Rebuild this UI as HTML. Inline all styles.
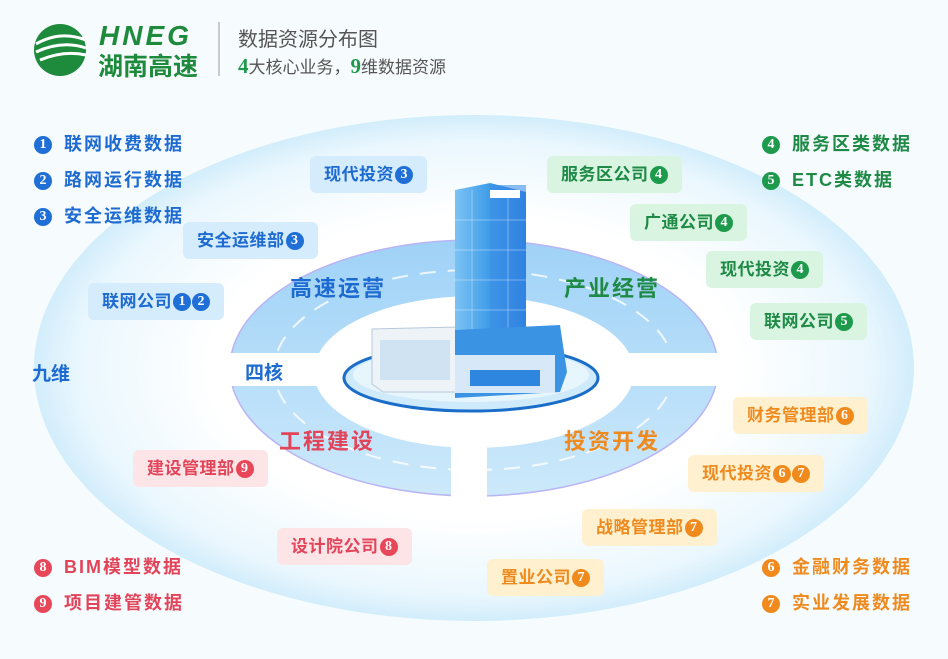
<!DOCTYPE html>
<html><head><meta charset="utf-8"><style>
body{margin:0;width:948px;height:659px;overflow:hidden;background:#f6fbfe;font-family:"Liberation Sans","Noto Sans CJK SC",sans-serif;position:relative}
.a{position:absolute;white-space:nowrap}
.n{display:inline-block;width:18px;height:18px;border-radius:50%;color:#fff;font-size:14px;line-height:18px;text-align:center;font-weight:bold;vertical-align:2px;font-family:"Liberation Serif",serif;letter-spacing:0}
.b .n{background:#1f6fd6}.g .n{background:#1e9a4c}.r .n{background:#e8475a}.o .n{background:#f08a1c}
.leg{font-size:18px;font-weight:bold;letter-spacing:2px}
.leg .n{margin-right:12px}
.b{color:#1d6ad0}.g{color:#1e8a46}.r{color:#e2445a}.o{color:#ee8a1e}
.t{font-size:17px;padding:0 14px;height:37px;line-height:37px;border-radius:6px;font-weight:bold;letter-spacing:0.5px}
.t.b{background:#d5ecfd}.t.g{background:#d9f5e2}.t.r{background:#fde4e7}.t.o{background:#fff1cf}
.t .n{margin-left:1px}
.big{font-size:22px;font-weight:bold;letter-spacing:2px}
</style></head><body>
<svg class="a" style="left:0;top:0" width="948" height="659">
<defs>
<radialGradient id="og" cx="50%" cy="50%" r="50%"><stop offset="0.6" stop-color="#ffffff"/><stop offset="0.9" stop-color="#eaf7fe"/><stop offset="1" stop-color="#d2edfb"/></radialGradient>
<linearGradient id="rg" x1="0" y1="0" x2="0" y2="1"><stop offset="0" stop-color="#9fd2f7"/><stop offset="1" stop-color="#cde9fb"/></linearGradient>
<linearGradient id="tw" x1="0" y1="0" x2="1" y2="0"><stop offset="0" stop-color="#7cc3f4"/><stop offset="0.5" stop-color="#3d9be8"/><stop offset="1" stop-color="#1c6fd8"/></linearGradient>
<mask id="m"><rect width="948" height="659" fill="#fff"/><ellipse cx="474" cy="372" rx="160" ry="76" fill="#000"/><rect x="0" y="353" width="948" height="33" fill="#000"/><rect x="451" y="386" width="36" height="200" fill="#000"/></mask>
</defs>
<ellipse cx="474" cy="368" rx="440" ry="253" fill="url(#og)"/>
<ellipse cx="474" cy="368" rx="244" ry="128" fill="url(#rg)" mask="url(#m)" stroke="#b9b4f4" stroke-width="1.5"/>
<ellipse cx="474" cy="370" rx="200" ry="100" fill="none" stroke="#fff" stroke-width="2" stroke-dasharray="16 12" mask="url(#m)" opacity="0.8"/>
<ellipse cx="471" cy="378" rx="127" ry="33" fill="#cfeafb" stroke="#1a6dc8" stroke-width="3"/>
<ellipse cx="471" cy="375" rx="118" ry="27" fill="#e7f5fd"/>
<polygon points="372,329 458,327 458,392 383,392 372,384" fill="#eef3f8" stroke="#b8c8d8"/>
<rect x="380" y="340" width="70" height="40" fill="#cfe3f3"/>
<polygon points="455,190 490,183 526,192 526,350 455,350" fill="url(#tw)"/>
<rect x="490" y="185" width="36" height="165" fill="#3d8fe6" opacity="0.6"/>
<g stroke="#ffffff" stroke-opacity="0.35"><line x1="455" y1="220" x2="526" y2="220"/><line x1="455" y1="250" x2="526" y2="250"/><line x1="455" y1="280" x2="526" y2="280"/><line x1="455" y1="310" x2="526" y2="310"/><line x1="472" y1="190" x2="472" y2="350"/><line x1="508" y1="190" x2="508" y2="350"/></g>
<polygon points="455,330 560,325 567,372 560,392 455,398" fill="#3b93e4"/>
<rect x="455" y="355" width="100" height="38" fill="#e9f2fa" opacity="0.9"/>
<rect x="470" y="370" width="70" height="16" fill="#2f86df"/>
<rect x="490" y="190" width="30" height="8" fill="#fff"/>
<circle cx="60" cy="50" r="26" fill="#1e8a3c"/>
<path d="M36,44 Q60,30 86,40 M36,52 Q62,40 86,48 M40,60 Q64,50 86,55" stroke="#fff" stroke-width="3" fill="none"/>
<line x1="219" y1="22" x2="219" y2="76" stroke="#999" stroke-width="1"/>
</svg>
<div class="a" style="left:99px;top:20px;font-size:28px;font-style:italic;font-weight:bold;color:#1e8a3c;letter-spacing:3px">HNEG</div>
<div class="a" style="left:98px;top:47px;font-size:25px;font-weight:bold;color:#1e8a3c">湖南高速</div>
<div class="a" style="left:238px;top:23px;font-size:20px;color:#555">数据资源分布图</div>
<div class="a" style="left:238px;top:53px;font-size:17px;color:#555"><b style="color:#1e9a4c;font-size:21px;font-family:'Liberation Serif',serif">4</b>大核心业务，<b style="color:#1e9a4c;font-size:21px;font-family:'Liberation Serif',serif">9</b>维数据资源</div>

<div class="a leg b" style="left:34px;top:130px"><span class="n">1</span>联网收费数据</div>
<div class="a leg b" style="left:34px;top:166px"><span class="n">2</span>路网运行数据</div>
<div class="a leg b" style="left:34px;top:202px"><span class="n">3</span>安全运维数据</div>
<div class="a leg g" style="left:762px;top:130px"><span class="n">4</span>服务区类数据</div>
<div class="a leg g" style="left:762px;top:166px"><span class="n">5</span>ETC类数据</div>
<div class="a leg r" style="left:34px;top:553px"><span class="n">8</span>BIM模型数据</div>
<div class="a leg r" style="left:34px;top:589px"><span class="n">9</span>项目建管数据</div>
<div class="a leg o" style="left:762px;top:553px"><span class="n">6</span>金融财务数据</div>
<div class="a leg o" style="left:762px;top:589px"><span class="n">7</span>实业发展数据</div>

<div class="a t b" style="left:310px;top:156px">现代投资<span class="n">3</span></div>
<div class="a t b" style="left:183px;top:222px">安全运维部<span class="n">3</span></div>
<div class="a t b" style="left:88px;top:283px">联网公司<span class="n">1</span><span class="n">2</span></div>
<div class="a t g" style="left:547px;top:156px">服务区公司<span class="n">4</span></div>
<div class="a t g" style="left:630px;top:204px">广通公司<span class="n">4</span></div>
<div class="a t g" style="left:706px;top:251px">现代投资<span class="n">4</span></div>
<div class="a t g" style="left:750px;top:303px">联网公司<span class="n">5</span></div>
<div class="a t r" style="left:133px;top:450px">建设管理部<span class="n">9</span></div>
<div class="a t r" style="left:277px;top:528px">设计院公司<span class="n">8</span></div>
<div class="a t o" style="left:733px;top:397px">财务管理部<span class="n">6</span></div>
<div class="a t o" style="left:688px;top:455px">现代投资<span class="n">6</span><span class="n">7</span></div>
<div class="a t o" style="left:582px;top:509px">战略管理部<span class="n">7</span></div>
<div class="a t o" style="left:487px;top:559px">置业公司<span class="n">7</span></div>

<div class="a big b" style="left:290px;top:271px">高速运营</div>
<div class="a big g" style="left:564px;top:271px">产业经营</div>
<div class="a big r" style="left:279px;top:424px">工程建设</div>
<div class="a big o" style="left:564px;top:424px">投资开发</div>
<div class="a b" style="left:245px;top:358px;font-size:19px;font-weight:bold">四核</div>
<div class="a b" style="left:32px;top:359px;font-size:19px;font-weight:bold">九维</div>
</body></html>
